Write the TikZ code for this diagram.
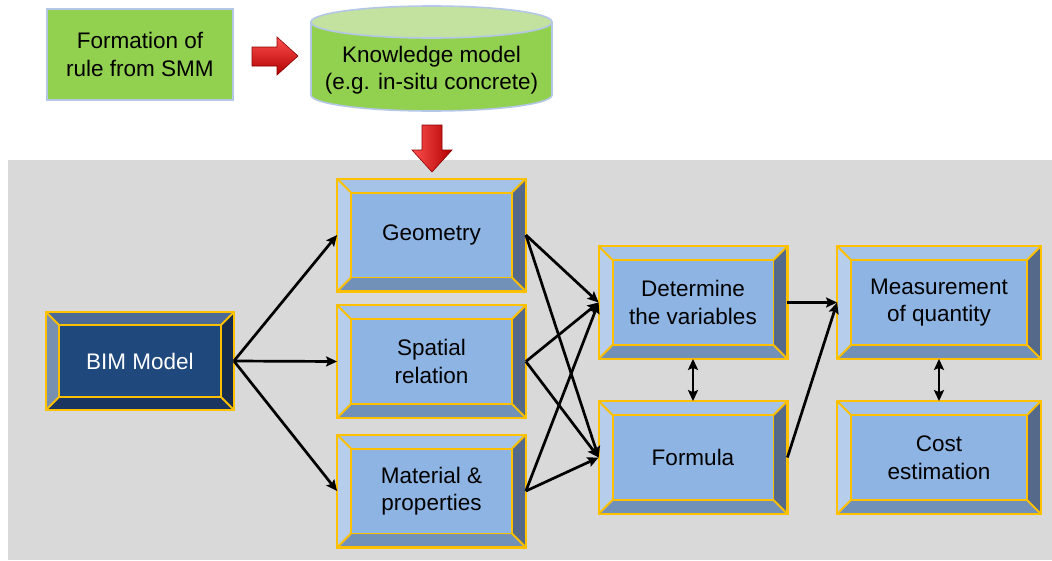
\documentclass[tikz,border=0pt]{standalone}
\usepackage{fontspec}
\setmainfont{Liberation Sans}
\usetikzlibrary{arrows.meta,calc}

\definecolor{gold}{HTML}{FFC000}
\definecolor{panel}{HTML}{D9D9D9}
\definecolor{leaf}{HTML}{92D050}
\definecolor{leaftop}{HTML}{C3E19F}
\definecolor{rim}{HTML}{B4C7E7}
% light blue bevel palette
\definecolor{lbface}{HTML}{8EB4E3}
\definecolor{lbtop}{HTML}{A5C2E7}
\definecolor{lbright}{HTML}{55698A}
\definecolor{lbbottom}{HTML}{7191B9}
\definecolor{lbleft}{HTML}{B6CEEC}
% dark blue bevel palette
\definecolor{dbface}{HTML}{1F487C}
\definecolor{dbtop}{HTML}{4B6A95}
\definecolor{dbright}{HTML}{162D4E}
\definecolor{dbbottom}{HTML}{1A3660}
\definecolor{dbleft}{HTML}{7890B0}
\definecolor{redlight}{HTML}{FF5050}
\definecolor{reddark}{HTML}{B00000}

% bevel facets around a named node: name, depth, top, right, bottom, left
\newcommand\bevelfaces[6]{%
  \fill[#3] (#1.north west) -- (#1.north east) -- ($(#1.north east)+(-#2,#2)$) -- ($(#1.north west)+(#2,#2)$) -- cycle;
  \fill[#4] (#1.north east) -- (#1.south east) -- ($(#1.south east)+(-#2,-#2)$) -- ($(#1.north east)+(-#2,#2)$) -- cycle;
  \fill[#5] (#1.south east) -- (#1.south west) -- ($(#1.south west)+(#2,-#2)$) -- ($(#1.south east)+(-#2,-#2)$) -- cycle;
  \fill[#6] (#1.south west) -- (#1.north west) -- ($(#1.north west)+(#2,#2)$) -- ($(#1.south west)+(#2,-#2)$) -- cycle;
  \draw[edge] ($(#1.north west)+(#2,#2)$) rectangle ($(#1.south east)+(-#2,-#2)$);
  \draw[edge] (#1.north west) -- ($(#1.north west)+(#2,#2)$)
              (#1.north east) -- ($(#1.north east)+(-#2,#2)$)
              (#1.south east) -- ($(#1.south east)+(-#2,-#2)$)
              (#1.south west) -- ($(#1.south west)+(#2,-#2)$);
  \draw[edge, line width=2.2pt] (#1.north west) rectangle (#1.south east);
}

\begin{document}
\begin{tikzpicture}[x=1pt,y=-1pt,
  txt/.style={font=\fontsize{22.5}{27.5}\selectfont, align=center},
  edge/.style={draw=gold, line width=1.8pt},
  card/.style={txt, rectangle, inner sep=0pt, fill=lbface, draw=gold, line width=1.8pt, text=black},
  darkcard/.style={card, fill=dbface, text=white},
  conn/.style={draw=black, line width=2.7pt, -{Stealth[length=11pt,width=10pt,inset=2pt]}},
  both/.style={draw=black, line width=2.7pt, {Stealth[length=11pt,width=10pt,inset=2pt]}-{Stealth[length=11pt,width=10pt,inset=2pt]}},
  blockarrow/.style={draw=reddark!80!black, line width=0.6pt}
]
\useasboundingbox (0,0) rectangle (1052,560);
\fill[white] (0,0) rectangle (1052,560);

% grey panel holding the workflow
\fill[panel] (8,160) rectangle (1052,560);

% rule source
\node[txt, rectangle, fill=leaf, draw=rim, line width=2pt, minimum width=186pt, minimum height=91pt, inner sep=0pt]
  (rule) at (140,54.5) {Formation of\\rule from SMM};

% knowledge base cylinder
\fill[leaf] (311,22) -- (311,95) arc[start angle=180, end angle=0, x radius=120.5, y radius=16] -- (552,22) -- cycle;
\draw[rim, line width=1.6pt] (311,22) -- (311,95) arc[start angle=180, end angle=0, x radius=120.5, y radius=16] -- (552,22);
\filldraw[fill=leaftop, draw=rim, line width=1.6pt] (431.5,22) ellipse[x radius=120.5, y radius=16];
\node[txt, inner sep=0pt] (know) at (431.5,70) {Knowledge model\\(e.g. in-situ concrete)};

% red block arrows
\shade[top color=redlight, bottom color=reddark, blockarrow]
  (252,47) -- (277,47) -- (277,37) -- (298,56) -- (277,75) -- (277,66) -- (252,66) -- cycle;
\shade[left color=redlight, right color=reddark, blockarrow]
  (422,125) -- (442,125) -- (442,150) -- (452,150) -- (432,172) -- (412,150) -- (422,150) -- cycle;

% workflow boxes
\node[darkcard, minimum width=186pt, minimum height=96pt] (bim) at (140,361) {BIM Model};
\bevelfaces{bim}{13}{dbtop}{dbright}{dbbottom}{dbleft}

\node[card, minimum width=187pt, minimum height=111pt] (geo) at (431.5,235) {\raisebox{-2pt}{Geometry}};
\bevelfaces{geo}{14}{lbtop}{lbright}{lbbottom}{lbleft}
\node[card, minimum width=187pt, minimum height=111pt] (spa) at (431.5,361.5) {Spatial\\relation};
\bevelfaces{spa}{14}{lbtop}{lbright}{lbbottom}{lbleft}
\node[card, minimum width=187pt, minimum height=111pt] (mat) at (431.5,491) {Material \&\\properties};
\bevelfaces{mat}{14}{lbtop}{lbright}{lbbottom}{lbleft}

\node[card, minimum width=187pt, minimum height=111pt] (var) at (693,302.5) {Determine\\the variables};
\bevelfaces{var}{14}{lbtop}{lbright}{lbbottom}{lbleft}
\node[card, minimum width=187pt, minimum height=111pt] (form) at (693,457.5) {Formula};
\bevelfaces{form}{14}{lbtop}{lbright}{lbbottom}{lbleft}

\node[card, minimum width=202pt, minimum height=111pt] (meas) at (939,302.5) {Measurement\\of quantity};
\bevelfaces{meas}{14}{lbtop}{lbright}{lbbottom}{lbleft}
\node[card, minimum width=202pt, minimum height=111pt] (cost) at (939,457.5) {Cost\\estimation};
\bevelfaces{cost}{14}{lbtop}{lbright}{lbbottom}{lbleft}

% connectors
\draw[conn] (bim.east) -- (geo.west);
\draw[conn] (bim.east) -- (spa.west);
\draw[conn] (bim.east) -- (mat.west);

\foreach \src in {geo,spa,mat} {
  \draw[conn] (\src.east) -- (var.west);
  \draw[conn] (\src.east) -- (form.west);
}

\draw[conn] (var.east) -- (meas.west);
\draw[conn] (form.east) -- (meas.west);

\draw[both] (var.south) -- (form.north);
\draw[both] (meas.south) -- (cost.north);
\end{tikzpicture}
\end{document}
